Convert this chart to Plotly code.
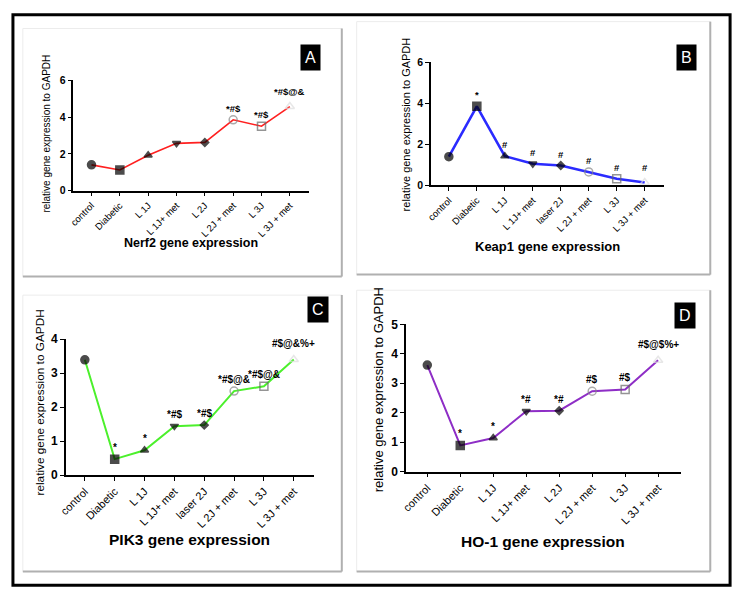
import plotly.graph_objects as go

W, H = 739, 600

# categorías del eje x
CATS_A = ["control", "Diabetic", "L 1J", "L 1J+ met", "L 2J", "L 2J + met", "L 3J", "L 3J + met"]
CATS_B = ["control", "Diabetic", "L 1J", "L 1J+ met", "laser 2J", "L 2J + met", "L 3J", "L 3J + met"]

# valores (expresión relativa a GAPDH)
NERF2 = [1.40, 1.12, 1.92, 2.57, 2.62, 3.85, 3.50, 4.57]
KEAP1 = [1.40, 3.86, 1.43, 1.06, 0.97, 0.66, 0.33, 0.14]
PIK3 = [3.39, 0.47, 0.73, 1.44, 1.47, 2.47, 2.61, 3.40]
HO1 = [3.62, 0.89, 1.14, 2.05, 2.07, 2.73, 2.79, 3.78]

# marcas de significancia
SIG_NERF2 = ["", "", "", "", "", "*#$", "*#$", "*#$@&"]
SIG_KEAP1 = ["", "*", "#", "#", "#", "#", "#", "#"]
SIG_PIK3 = ["", "*", "*", "*#$", "*#$", "*#$@&", "*#$@&", "#$@&%+"]
SIG_HO1 = ["", "*", "*", "*#", "*#", "#$", "#$", "#$@$%+"]

SYMBOLS = ["circle", "square", "triangle-up", "triangle-down", "diamond",
           "circle-open", "square-open", "triangle-up-open"]
MK_COLORS = ["black", "black", "black", "black", "black", "#888888", "#666666", "#dddddd"]
MK_SIZES = [8, 8, 7, 7, 6, 8, 8, 8]

# (px) dominios de cada panel: x0, x1, y_top, y_bottom
PANELS = [
    dict(cats=CATS_A, vals=NERF2, sig=SIG_NERF2, color="#ff2020", lw=1.6, ymax=6, dtick=2,
         box=(67, 305, 75, 188), title="Nerf2 gene expression", tsize=12.5, ty=242,
         ysize=10, ycy=130, ticksize=9.5, letter="A", lbox=(306, 52), ysh=27),
    dict(cats=CATS_B, vals=KEAP1, sig=SIG_KEAP1, color="#2b2bff", lw=2.6, ymax=6, dtick=2,
         box=(428, 663, 56.7, 182.7), title="Keap1 gene expression", tsize=13, ty=245,
         ysize=11, ycy=120, ticksize=9.5, letter="B", lbox=(686, 52), ysh=25),
    dict(cats=CATS_B, vals=PIK3, sig=SIG_PIK3, color="#4cf02c", lw=2, ymax=4, dtick=1,
         box=(59.3, 310, 340, 479.3), title="PIK3 gene expression", tsize=15.5, ty=545,
         ysize=11.8, ycy=405, ticksize=11, letter="C", lbox=(314, 310), ysh=26),
    dict(cats=CATS_A, vals=HO1, sig=SIG_HO1, color="#8e2ec6", lw=2, ymax=5, dtick=1,
         box=(403, 680, 325, 475.7), title="HO-1 gene expression", tsize=15.5, ty=547,
         ysize=13, ycy=392, ticksize=11, letter="D", lbox=(684, 316), ysh=28),
]

CARDS = [(16, 22, 338, 276), (353, 15, 710, 274), (16, 295, 338, 578), (353, 290, 710, 578)]

fig = go.Figure()
shapes = []
annotations = []

for cx0, cy0, cx1, cy1 in CARDS:
    shapes.append(dict(type="rect", xref="paper", yref="paper",
                       x0=cx0 / W, x1=cx1 / W, y0=1 - cy1 / H, y1=1 - cy0 / H,
                       line=dict(color="#ececec", width=1), fillcolor="white", layer="below"))
    shapes.append(dict(type="line", xref="paper", yref="paper",
                       x0=cx1 / W, x1=cx1 / W, y0=1 - cy1 / H, y1=1 - cy0 / H,
                       line=dict(color="#b0b0b0", width=2)))
    shapes.append(dict(type="line", xref="paper", yref="paper",
                       x0=cx0 / W, x1=cx1 / W, y0=1 - cy1 / H, y1=1 - cy1 / H,
                       line=dict(color="#b0b0b0", width=2)))

# marco exterior
shapes.append(dict(type="rect", xref="paper", yref="paper",
                   x0=6 / W, x1=730 / W, y0=1 - 592 / H, y1=1 - 8 / H,
                   line=dict(color="black", width=3)))

layout_axes = {}
for i, p in enumerate(PANELS, start=1):
    xa = "x" if i == 1 else f"x{i}"
    ya = "y" if i == 1 else f"y{i}"
    n = len(p["cats"])
    x = list(range(n))

    fig.add_trace(go.Scatter(
        x=x, y=p["vals"], xaxis=xa, yaxis=ya,
        mode="lines+markers",
        line=dict(color=p["color"], width=p["lw"]),
        marker=dict(symbol=SYMBOLS, color=MK_COLORS, size=MK_SIZES,
                    line=dict(color=MK_COLORS, width=1.5)),
        showlegend=False, hoverinfo="skip",
    ))

    for j, s in enumerate(p["sig"]):
        if not s:
            continue
        annotations.append(dict(
            x=j, y=p["vals"][j], xref=xa, yref=ya, text=s, showarrow=False,
            yanchor="bottom", yshift=8 if j == n - 1 else 4,
            font=dict(size=10 if i > 2 else 9.5, color="black", weight="bold"),
        ))

    x0, x1, yt, yb = p["box"]
    key = "" if i == 1 else str(i)
    layout_axes[f"xaxis{key}"] = dict(
        domain=[x0 / W, x1 / W], anchor=ya, range=[-0.64, n - 1 + 0.68],
        tickmode="array", tickvals=x, ticktext=p["cats"], tickangle=-45,
        showline=True, linecolor="black", linewidth=1.5, ticks="outside",
        ticklen=4, tickcolor="black", showgrid=False, zeroline=False,
        tickfont=dict(size=p["ticksize"], color="black"),
    )
    layout_axes[f"yaxis{key}"] = dict(
        domain=[1 - yb / H, 1 - yt / H], anchor=xa, range=[0, p["ymax"]],
        dtick=p["dtick"], showline=True, linecolor="black", linewidth=1.5,
        ticks="outside", ticklen=4, tickcolor="black", showgrid=False, zeroline=False,
        tickfont=dict(size=p["ticksize"] + 1, color="black", weight="bold"),
    )

    # título del eje y
    annotations.append(dict(
        x=(x0 - p["ysh"]) / W, y=1 - p["ycy"] / H, xref="paper", yref="paper",
        text="relative gene expression to GAPDH", textangle=-90,
        showarrow=False, xanchor="center", yanchor="middle",
        font=dict(size=p["ysize"], color="black"),
    ))
    # título del eje x
    annotations.append(dict(
        x=(x0 + x1) / 2 / W, y=1 - p["ty"] / H, xref="paper", yref="paper",
        text=p["title"], showarrow=False, xanchor="center", yanchor="middle",
        font=dict(size=p["tsize"], color="black", weight="bold"),
    ))
    # letra del panel
    lx, ly = p["lbox"]
    annotations.append(dict(
        x=lx / W, y=1 - ly / H, xref="paper", yref="paper", text=p["letter"],
        showarrow=False, xanchor="center", yanchor="middle", bgcolor="black",
        borderpad=4,
        font=dict(size=16, color="white"),
    ))

fig.update_layout(
    width=W, height=H,
    margin=dict(l=0, r=0, t=0, b=0),
    paper_bgcolor="white", plot_bgcolor="rgba(0,0,0,0)",
    font=dict(family="Liberation Sans, Arial, sans-serif", color="black"),
    shapes=shapes, annotations=annotations,
    **layout_axes,
)

fig.write_html("out.html", config={"displayModeBar": False},
               post_script="document.body.style.margin='0';")
